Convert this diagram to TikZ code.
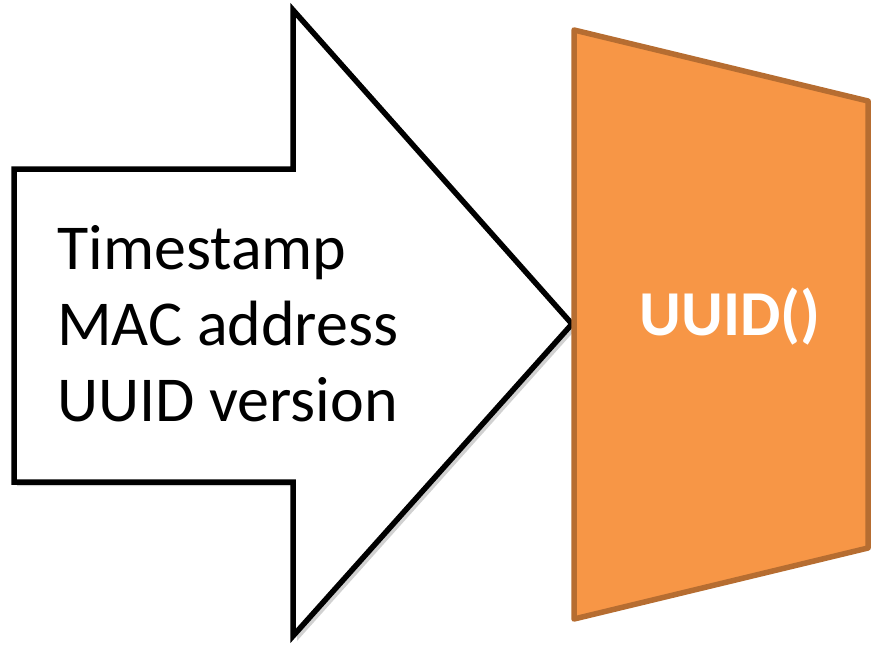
\documentclass[tikz,border=0pt]{standalone}
\usepackage{fontspec}
\setmainfont{Carlito}
\begin{document}
\begin{tikzpicture}[x=1pt,y=-1pt,
  arrowshape/.style={draw=black,line width=5.5pt,fill=white,line join=miter},
  funcshape/.style={draw=orangeedge,line width=5.5pt,fill=orangefill,line join=round},
  label/.style={font=\fontsize{64}{76}\selectfont,align=left,anchor=west,inner sep=0pt},
  funclabel/.style={font=\fontsize{64}{76}\selectfont\bfseries,text=white,inner sep=0pt}]
\definecolor{orangefill}{HTML}{F79646}
\definecolor{orangeedge}{HTML}{B66D31}
\useasboundingbox (0,0) rectangle (875,645);
% shadow
\fill[black!18] (17,174) -- (297,174) -- (297,15) -- (577,328) -- (297,641) -- (297,486) -- (17,486) -- cycle;
\draw[arrowshape] (14,169) -- (293,169) -- (293,10) -- (572,324) -- (293,636) -- (293,482) -- (14,482) -- cycle;
\node[label] (txt) at (57,324) {Timestamp\\MAC address\\UUID version};
\draw[funcshape] (574,30) -- (868,101) -- (868,548) -- (574,619) -- cycle;
\node[funclabel] (uuid) at (730,317) {UUID()};
\end{tikzpicture}
\end{document}
